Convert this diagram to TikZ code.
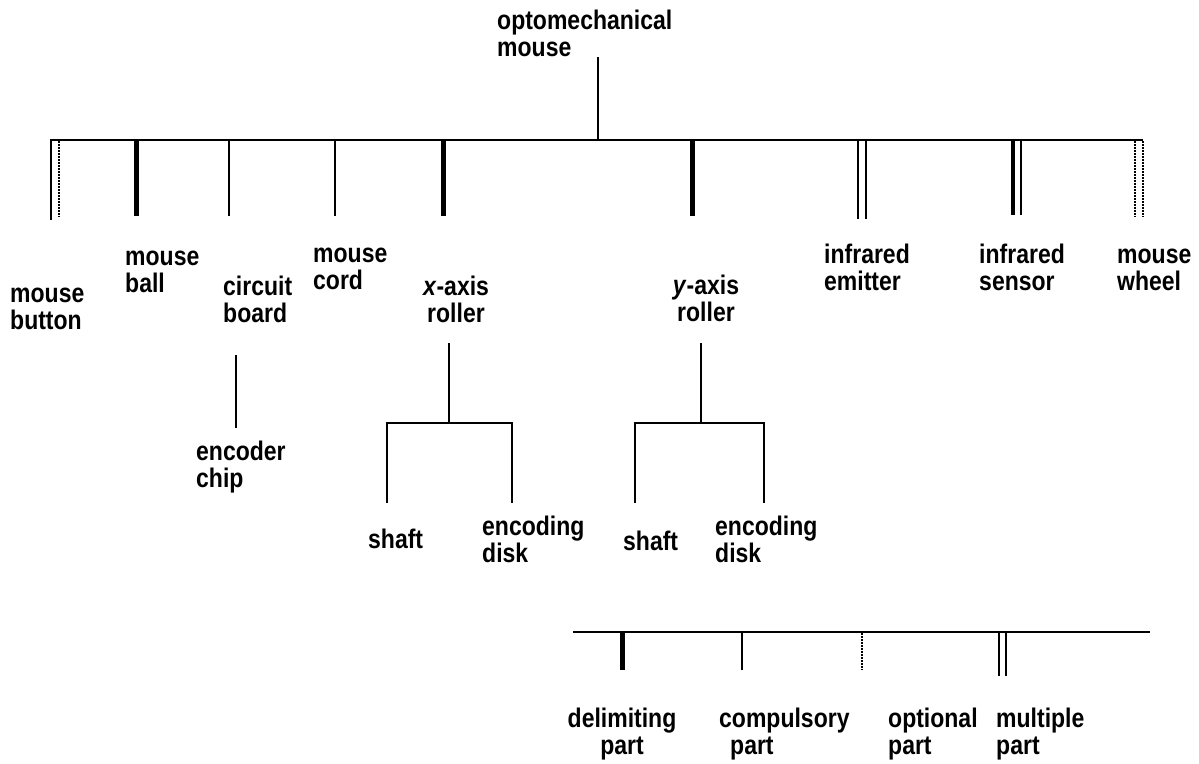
\documentclass[tikz,border=0pt]{standalone}
\usepackage{fontspec}
\setmainfont{Liberation Sans}
\begin{document}
\begin{tikzpicture}[x=1pt,y=-1pt,
  lbl/.style={font=\bfseries\fontsize{23}{23.5}\selectfont, inner sep=0pt, anchor=base west, yscale=1.17},
  lblc/.style={lbl, anchor=base},
  bar/.style={line width=1.8pt},
  thinstem/.style={line width=1.7pt},
  thickstem/.style={line width=5pt},
  dotstem/.style={line width=2.8pt, dash pattern=on 2pt off 1pt}]
\useasboundingbox (0,0) rectangle (1199,763);
\newcommand{\twol}[2]{\begin{tabular}[t]{@{}l@{}}#1\\#2\end{tabular}}
\newcommand{\twoc}[2]{\begin{tabular}[t]{@{}c@{}}#1\\#2\end{tabular}}
% labels
\node[lbl] (root) at (497,29) {\twol{optomechanical}{mouse}};
\node[lbl] (button) at (10,302) {\twol{mouse}{button}};
\node[lbl] (ball) at (125,265) {\twol{mouse}{ball}};
\node[lbl] (board) at (223,295) {\twol{circuit}{board}};
\node[lbl] (cord) at (313,262) {\twol{mouse}{cord}};
\node[lblc] (xroll) at (456,295) {\twoc{\textit{x}-axis}{roller}};
\node[lblc] (yroll) at (706,294) {\twoc{\textit{y}-axis}{roller}};
\node[lbl] (emitter) at (824,263) {\twol{infrared}{emitter}};
\node[lbl] (sensor) at (979,263) {\twol{infrared}{sensor}};
\node[lbl] (wheel) at (1117,263) {\twol{mouse}{wheel}};
\node[lbl] (chip) at (196,460) {\twol{encoder}{chip}};
\node[lbl] (xshaft) at (368,548) {shaft};
\node[lbl] (xdisk) at (482,535) {\twol{encoding}{disk}};
\node[lbl] (yshaft) at (623,550) {shaft};
\node[lbl] (ydisk) at (715,535) {\twol{encoding}{disk}};
\node[lblc] (delim) at (622,727) {\twoc{delimiting}{part}};
\node[lbl] (compul) at (719,727) {\twol{compulsory}{\hspace*{11pt}part}};
\node[lbl] (option) at (888,727) {\twol{optional}{part}};
\node[lbl] (multi) at (996,727) {\twol{multiple}{part}};
% main tree
\coordinate (rtop) at (598,57);
\coordinate (rbot) at (598,140);
\coordinate (barL) at (51,140);
\coordinate (barR) at (1143,140);
\draw[thinstem] (rtop) -- (rbot);
\draw[bar] (barL) -- (barR);
% mouse button: compulsory + optional multiple
\draw[thinstem] (51,139) -- (51,220);
\draw[dotstem] (59,141) -- (59,217);
% mouse ball
\draw[thickstem] (136,139) -- (136,216);
% circuit board
\draw[thinstem] (229,139) -- (229,216);
% mouse cord
\draw[thinstem] (335,139) -- (335,216);
% x-axis roller
\draw[thickstem] (443,139) -- (443,216);
% y-axis roller
\draw[thickstem] (692,139) -- (692,216);
% infrared emitter
\draw[thinstem] (858,139) -- (858,219);
\draw[thinstem] (866,139) -- (866,219);
% infrared sensor
\draw[line width=4.6pt] (1013,139) -- (1013,215);
\draw[thinstem] (1021,139) -- (1021,215);
% mouse wheel
\draw[dotstem] (1135,141) -- (1135,217);
\draw[dotstem] (1143,141) -- (1143,217);
% circuit board -> encoder chip
\coordinate (cbtop) at (236,355);
\coordinate (cbbot) at (236,428);
\draw[thinstem] (cbtop) -- (cbbot);
% x-axis roller subtree
\coordinate (xt) at (449,343);
\coordinate (xm) at (449,423);
\coordinate (xl) at (387,423);
\coordinate (xr) at (512,423);
\draw[thinstem] (xt) -- (xm);
\draw[thinstem] (387,503) -- (xl) -- (xr) -- (512,503);
% y-axis roller subtree
\coordinate (yt) at (701,343);
\coordinate (ym) at (701,423);
\coordinate (yl) at (635,423);
\coordinate (yr) at (764,423);
\draw[thinstem] (yt) -- (ym);
\draw[thinstem] (635,503) -- (yl) -- (yr) -- (764,503);
% legend
\coordinate (lL) at (573,632);
\coordinate (lR) at (1150,632);
\draw[bar] (lL) -- (lR);
\draw[thickstem] (622,631) -- (622,670);
\draw[thinstem] (742,631) -- (742,670);
\draw[dotstem] (862,633) -- (862,670);
\draw[thinstem] (999,631) -- (999,676);
\draw[thinstem] (1006,631) -- (1006,676);
\end{tikzpicture}
\end{document}
